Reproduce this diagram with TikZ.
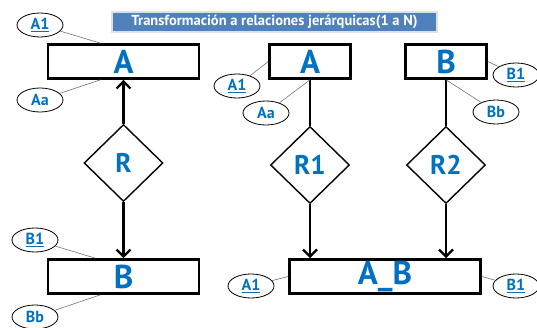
\documentclass[tikz,border=0pt]{standalone}
\usepackage{fontspec}
\setmainfont{PT Sans}
\usetikzlibrary{shapes.geometric,arrows.meta}
\definecolor{erblue}{RGB}{0,112,192}
\definecolor{barblue}{RGB}{79,129,189}

\begin{document}
\begin{tikzpicture}[
    x=1pt, y=-1pt,
    entity/.style={draw, line width=2.6pt, minimum width=151pt, minimum height=34pt, inner sep=0pt, text=erblue, font=\bfseries\fontsize{33}{33}\selectfont},
    relation/.style={diamond, draw, line width=1.4pt, minimum width=79pt, minimum height=77pt, inner sep=0pt, text=erblue, font=\bfseries\fontsize{27}{27}\selectfont},
    attrib/.style={ellipse, draw, line width=0.8pt, minimum width=46pt, minimum height=24pt, inner sep=0pt, text=erblue, font=\bfseries\fontsize{16}{16}\selectfont},
    link/.style={draw=black!55, line width=0.6pt},
    flow/.style={line width=2.4pt, -{Straight Barb[length=7pt,width=14pt]}}
]
    \useasboundingbox (0,0) rectangle (537,328);
    \node[fill=barblue, draw=black!12, line width=1.5pt, minimum width=325pt, minimum height=20pt, inner sep=0pt, text=white, font=\bfseries\fontsize{14.5}{14.5}\selectfont] (title) at (274.5,22) {Transformación a relaciones jerárquicas(1 a N)};

    % left: 1 a N
    \node[entity] (A) at (123.5,61.5) {A};
    \node[relation] (R) at (123.5,163) {R};
    \node[entity] (B) at (123.5,276.5) {B};
    \node[attrib] (ka1) at (40,25) {\underline{A1}};
    \node[attrib] (aa) at (40,100) {Aa};
    \node[attrib] (kb1) at (35,240) {\underline{B1}};
    \node[attrib] (bb) at (35,317) {Bb};
    \draw[flow] (R) -- (A);
    \draw[flow] (R) -- (B);
    \draw[link] (ka1) -- ([xshift=-23pt]A.north);
    \draw[link] (aa) -- ([xshift=-23pt]A.south);
    \draw[link] (kb1) -- ([xshift=-28pt]B.north);
    \draw[link] (bb) -- ([xshift=-23pt]B.south);

    % right: nueva relacion
    \node[entity, minimum width=81pt] (A2) at (310,61.5) {A};
    \node[entity, minimum width=81pt] (B2) at (446,61.5) {B};
    \node[relation] (R1) at (310,165) {R1};
    \node[relation] (R2) at (446,165) {R2};
    \node[entity, minimum width=191pt] (AB) at (385,276.5) {A\_B};
    \node[attrib] (ka2) at (237,86) {\underline{A1}};
    \node[attrib] (aa2) at (266,113) {Aa};
    \node[attrib] (kb2) at (516,75) {\underline{B1}};
    \node[attrib] (bb2) at (496,112) {Bb};
    \node[attrib] (ka3) at (251,286) {\underline{A1}};
    \node[attrib] (kb3) at (516,286) {\underline{B1}};
    \draw[line width=2.4pt] (A2) -- (R1);
    \draw[line width=2.4pt] (B2) -- (R2);
    \draw[flow] (R1) -- (R1 |- AB.north);
    \draw[flow] (R2) -- (R2 |- AB.north);
    \draw[link] (ka2) -- (A2.west);
    \draw[link] (aa2) -- (A2.south);
    \draw[link] (kb2) -- (B2.east);
    \draw[link] (bb2) -- (B2.south);
    \draw[link] (ka3) -- (AB.west);
    \draw[link] (kb3) -- (AB.east);
\end{tikzpicture}
\end{document}
